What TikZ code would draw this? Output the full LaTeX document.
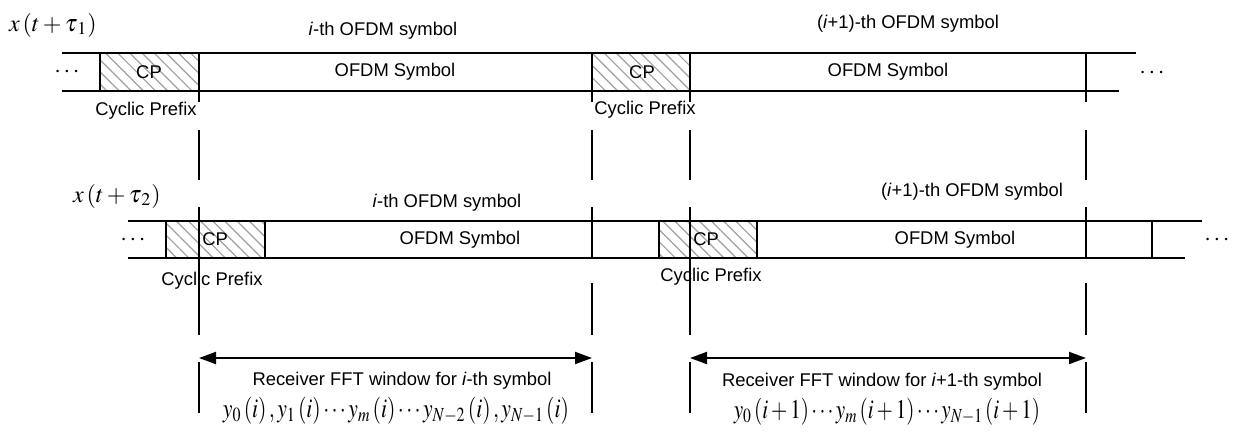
\documentclass[tikz,border=0pt]{standalone}
\usepackage[no-math]{fontspec}
\usepackage{mathptmx}
\usepackage{graphicx}
\setmainfont{Liberation Serif}
\setsansfont{Liberation Sans}
\usetikzlibrary{patterns.meta,arrows.meta}

\tikzset{
  band/.style={line width=1.4pt},
  guide/.style={line width=1.4pt},
  cpfill/.style={pattern={Lines[angle=-45,distance=4.3pt,line width=0.6pt]},pattern color=gray!75},
  lbl/.style={font=\sffamily\fontsize{9.2}{11}\selectfont,inner sep=0pt},
  eqn/.style={font=\fontsize{12}{14}\selectfont,inner sep=0pt},
  seq/.style={font=\fontsize{13.5}{16}\selectfont,inner sep=0pt},
  dotsl/.style={font=\fontsize{12}{14}\selectfont,inner sep=0pt},
  win/.style={line width=1pt,{Triangle[length=8.5pt,width=6pt]}-{Triangle[length=8.5pt,width=6pt]}}
}

\begin{document}
\begin{tikzpicture}[x=0.5pt,y=-0.5pt]
\useasboundingbox (0,0) rectangle (1250,434);

% ---------- first received copy x(t+tau_1) ----------
\fill[cpfill] (100,53) rectangle (199,91);
\fill[cpfill] (592,53) rectangle (690,91);
\draw[band] (62,53) -- (1136,53);
\draw[band] (62,91) -- (1119,91);
\draw[band] (100,53) -- (100,91);

\node[eqn] (xa) at (53,25) {$x\left(t+\tau_{\kern1pt 1}\right)$};
\node[lbl] (syma) at (383,31) {\textit{i}-th OFDM symbol};
\node[lbl] (symb) at (908,24) {(\textit{i}+1)-th OFDM symbol};
\node[dotsl] (dla) at (67,72) {$\cdots$};
\node[dotsl] (dra) at (1152,73) {$\cdots$};
\node[lbl] (cpa) at (149,72) {CP};
\node[lbl] (cpb) at (642,72) {CP};
\node[lbl] (ofa) at (395,72) {OFDM Symbol};
\node[lbl] (ofb) at (888,72) {OFDM Symbol};
\node[lbl] (cya) at (146,111) {Cyclic Prefix};
\node[lbl] (cyb) at (645,110) {Cyclic Prefix};

% ---------- second received copy x(t+tau_2) ----------
\fill[cpfill] (166,221) rectangle (265,258);
\fill[cpfill] (659,221) rectangle (757,258);
\draw[band] (128,221) -- (1202,221);
\draw[band] (128,258) -- (1185,258);
\foreach \x in {166,265,659,757,1152}
  \draw[band] (\x,221) -- (\x,258);

\node[eqn] (xb) at (117,196) {$x\left(t+\tau_{\kern1pt 2}\right)$};
\node[lbl] (symc) at (447,203) {\textit{i}-th OFDM symbol};
\node[lbl] (symd) at (972,192) {(\textit{i}+1)-th OFDM symbol};
\node[dotsl] (dlb) at (133,240) {$\cdots$};
\node[dotsl] (drb) at (1217,240) {$\cdots$};
\node[lbl,anchor=west] (cpc) at (202,239) {CP};
\node[lbl,anchor=west] (cpd) at (693,239) {CP};
\node[lbl] (ofc) at (460,240) {OFDM Symbol};
\node[lbl] (ofd) at (955,240) {OFDM Symbol};
\node[lbl] (cyc) at (212,281) {Cyclic Prefix};
\node[lbl] (cyd) at (711,277) {Cyclic Prefix};

% ---------- FFT window boundaries ----------
\foreach \x in {199,690}
  \draw[guide] (\x,53) -- (\x,102) (\x,130) -- (\x,180)
               (\x,207) -- (\x,335) (\x,362) -- (\x,413);
\foreach \x in {592,1086}
  \draw[guide] (\x,53) -- (\x,102) (\x,130) -- (\x,180)
               (\x,207) -- (\x,258) (\x,283) -- (\x,335) (\x,362) -- (\x,413);

% ---------- receiver FFT windows ----------
\coordinate (wa1) at (199,358);
\coordinate (wa2) at (592,358);
\coordinate (wb1) at (690,358);
\coordinate (wb2) at (1086,358);
\draw[win] (wa1) -- (wa2);
\draw[win] (wb1) -- (wb2);

\node[lbl] (fa) at (402,381) {Receiver FFT window for \textit{i}-th symbol};
\node[lbl] (fb) at (882,382) {Receiver FFT window for \textit{i}+1-th symbol};
\node[seq] (ya) at (396,411)
  {\scalebox{0.8}[1]{$y_0\left(i\right),y_1\left(i\right)\cdots y_m\left(i\right)\cdots y_{N-2}\left(i\right),y_{N-1}\left(i\right)$}};
\node[seq] (yb) at (887,412)
  {\scalebox{0.78}[1]{$y_0\left(i+1\right)\cdots y_m\left(i+1\right)\cdots y_{N-1}\left(i+1\right)$}};
\end{tikzpicture}
\end{document}
